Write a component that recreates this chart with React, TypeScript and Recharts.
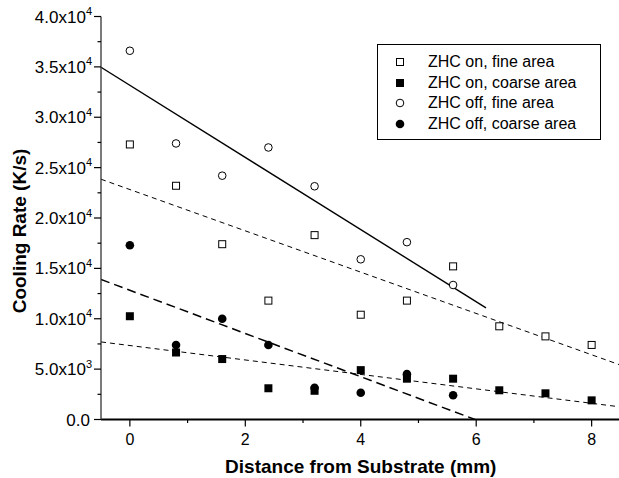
import React from 'react';
import { ComposedChart, XAxis, YAxis, Scatter, Line, Legend } from 'recharts';

// Distances (mm)
const distOn = [0, 0.8, 1.6, 2.4, 3.2, 4.0, 4.8, 5.6, 6.4, 7.2, 8.0];
const distOff = [0, 0.8, 1.6, 2.4, 3.2, 4.0, 4.8, 5.6];

// Cooling rates (K/s)
const onFine = [27300, 23200, 17400, 11800, 18300, 10400, 11800, 15200, 9250, 8250, 7400];
const onCoarse = [10250, 6650, 6000, 3100, 2850, 4900, 4050, 4050, 2900, 2600, 1900];
const offFine = [36600, 27400, 24200, 27000, 23150, 15900, 17600, 13350];
const offCoarse = [17300, 7400, 10000, 7400, 3150, 2650, 4500, 2400];

// Linear fit end points [x, y]
const fitOffFineX = [-0.5, 6.17];
const fitOffFineY = [34960, 11080];
const fitOnFineX = [-0.5, 8.5];
const fitOnFineY = [23850, 5400];
const fitOffCoarseX = [-0.5, 5.98];
const fitOffCoarseY = [13900, 0];
const fitOnCoarseX = [-0.5, 8.5];
const fitOnCoarseY = [7700, 1250];

// Ticks
const xTicks = [0, 1, 2, 3, 4, 5, 6, 7, 8];
const yTicks = [0, 2500, 5000, 7500, 10000, 12500, 15000, 17500, 20000, 22500, 25000, 27500, 30000, 32500, 35000, 37500, 40000];

const legendNames = ['ZHC on, fine area', 'ZHC on, coarse area', 'ZHC off, fine area', 'ZHC off, coarse area'];

const zip = (xs: number[], ys: number[]) => xs.map((x, i) => ({ x, y: ys[i] }));

const FONT = '"Liberation Sans", Arial, Helvetica, sans-serif';

const isMajorX = (v: number) => v % 2 === 0;
const isMajorY = (v: number) => v % 5000 === 0;

const BottomTick = (props: any) => {
  const { x, y, payload } = props;
  const v = payload.value;
  const major = isMajorX(v);
  return (
    <g>
      <line x1={x} x2={x} y1={y} y2={y + (major ? 7 : 3.5)} stroke="#000" strokeWidth={1.2} />
      {major && (
        <text x={x} y={y + 25} textAnchor="middle" fontFamily={FONT} fontSize={16} fill="#000">
          {v}
        </text>
      )}
    </g>
  );
};

const TopTick = (props: any) => {
  const { x, y, payload } = props;
  const major = isMajorX(payload.value);
  return <line x1={x} x2={x} y1={y} y2={y + (major ? 7 : 3.5)} stroke="#000" strokeWidth={1.2} />;
};

const fmtY = (v: number) => {
  if (v === 0) return { m: '0.0', e: '' };
  const e = Math.floor(Math.log10(v));
  const m = (v / Math.pow(10, e)).toFixed(1);
  return { m: m + 'x10', e: String(e) };
};

const LeftTick = (props: any) => {
  const { x, y, payload } = props;
  const v = payload.value;
  const major = isMajorY(v);
  const f = fmtY(v);
  return (
    <g>
      <line x1={x - (major ? 7 : 3.5)} x2={x} y1={y} y2={y} stroke="#000" strokeWidth={1.2} />
      {major && (
        <text x={f.e ? x - 9 : x - 11} y={y + 6} textAnchor="end" fontFamily={FONT} fontSize={17} fill="#000">
          {f.m}
          {f.e && (
            <tspan fontSize={11} dy={-7.5}>
              {f.e}
            </tspan>
          )}
        </text>
      )}
    </g>
  );
};

const RightTick = (props: any) => {
  const { x, y, payload } = props;
  const major = isMajorY(payload.value);
  return <line x1={x - (major ? 6 : 3)} x2={x} y1={y} y2={y} stroke="#000" strokeWidth={1.2} />;
};

const OpenSquare = (p: any) => (
  <rect x={p.cx - 3.5} y={p.cy - 3.5} width={7} height={7} fill="#fff" stroke="#000" strokeWidth={1} />
);
const FilledSquare = (p: any) => <rect x={p.cx - 4} y={p.cy - 4} width={8} height={8} fill="#000" />;
const OpenCircle = (p: any) => <circle cx={p.cx} cy={p.cy} r={3.8} fill="#fff" stroke="#000" strokeWidth={1} />;
const FilledCircle = (p: any) => <circle cx={p.cx} cy={p.cy} r={4.3} fill="#000" />;

const legendSymbols = [
  <rect x={3.5} y={3.5} width={7} height={7} fill="#fff" stroke="#000" strokeWidth={1} />,
  <rect x={3} y={3} width={8} height={8} fill="#000" />,
  <circle cx={7} cy={7} r={3.8} fill="#fff" stroke="#000" strokeWidth={1} />,
  <circle cx={7} cy={7} r={4.3} fill="#000" />,
];

const LegendBox = () => (
  <div
    style={{
      boxSizing: 'border-box',
      width: 224,
      height: 96,
      border: '1px solid #000',
      background: '#fff',
      padding: '7px 0 0 15px',
      fontFamily: FONT,
      fontSize: 16,
      color: '#000',
    }}
  >
    {legendNames.map((n, i) => (
      <div key={n} style={{ display: 'flex', alignItems: 'center', height: 20.5 }}>
        <svg width={14} height={14} style={{ marginRight: 21 }}>
          {legendSymbols[i]}
        </svg>
        <span>{n}</span>
      </div>
    ))}
  </div>
);

export default function App() {
  return (
    <div style={{ position: 'absolute', left: 0, top: 0, width: 619, height: 478, overflow: 'hidden', background: '#fff' }}>
      <ComposedChart width={625} height={478} margin={{ top: 16.5, right: 4.5, bottom: 0, left: 0 }}>
        <XAxis
          xAxisId={0}
          dataKey="x"
          type="number"
          domain={[-0.5, 8.5]}
          ticks={xTicks}
          allowDataOverflow
          height={58.5}
          tickSize={0}
          tickMargin={0}
          tickLine={false}
          tick={<BottomTick />}
          axisLine={{ stroke: '#000', strokeWidth: 2 }}
          interval={0}
          label={{ value: 'Distance from Substrate (mm)', position: 'insideBottom', offset: 5, style: { fontFamily: FONT, fontSize: 19, fontWeight: 'bold', fill: '#000' } }}
        />
        <XAxis
          xAxisId="top"
          orientation="top"
          type="number"
          domain={[-0.5, 8.5]}
          ticks={xTicks}
          allowDataOverflow
          height={0}
          tickSize={0}
          tickMargin={0}
          tickLine={false}
          tick={<TopTick />}
          axisLine={{ stroke: '#000', strokeWidth: 1.2 }}
          interval={0}
        />
        <YAxis
          yAxisId={0}
          type="number"
          domain={[0, 40000]}
          ticks={yTicks}
          allowDataOverflow
          width={101}
          tickSize={0}
          tickMargin={0}
          tickLine={false}
          tick={<LeftTick />}
          axisLine={{ stroke: '#333', strokeWidth: 1.3 }}
          interval={0}
          label={{ value: 'Cooling Rate (K/s)', angle: -90, position: 'insideLeft', offset: 0, dx: 19, dy: 13, style: { fontFamily: FONT, fontSize: 19, fontWeight: 'bold', fill: '#000', textAnchor: 'middle' } }}
        />
        <YAxis
          yAxisId="right"
          orientation="right"
          type="number"
          domain={[0, 40000]}
          ticks={yTicks}
          allowDataOverflow
          width={0}
          tickSize={0}
          tickMargin={0}
          tickLine={false}
          tick={<RightTick />}
          axisLine={{ stroke: '#000', strokeWidth: 1.2 }}
          interval={0}
        />
        <Legend
          layout="vertical"
          align="center"
          verticalAlign="middle"
          content={() => <LegendBox />}
          wrapperStyle={{ position: 'absolute', left: 377, top: 44, width: 224, height: 96 }}
        />
        <Line data={zip(fitOffFineX, fitOffFineY)} dataKey="y" stroke="#000" strokeWidth={1.4} dot={false} activeDot={false} isAnimationActive={false} legendType="none" />
        <Line data={zip(fitOnFineX, fitOnFineY)} dataKey="y" stroke="#000" strokeWidth={1} strokeDasharray="5 4" dot={false} activeDot={false} isAnimationActive={false} legendType="none" />
        <Line data={zip(fitOffCoarseX, fitOffCoarseY)} dataKey="y" stroke="#000" strokeWidth={1.5} strokeDasharray="9 5" dot={false} activeDot={false} isAnimationActive={false} legendType="none" />
        <Line data={zip(fitOnCoarseX, fitOnCoarseY)} dataKey="y" stroke="#000" strokeWidth={1} strokeDasharray="5 4" dot={false} activeDot={false} isAnimationActive={false} legendType="none" />
        <Scatter name={legendNames[0]} data={zip(distOn, onFine)} dataKey="y" shape={OpenSquare} isAnimationActive={false} />
        <Scatter name={legendNames[1]} data={zip(distOn, onCoarse)} dataKey="y" shape={FilledSquare} isAnimationActive={false} />
        <Scatter name={legendNames[2]} data={zip(distOff, offFine)} dataKey="y" shape={OpenCircle} isAnimationActive={false} />
        <Scatter name={legendNames[3]} data={zip(distOff, offCoarse)} dataKey="y" shape={FilledCircle} isAnimationActive={false} />
      </ComposedChart>
    </div>
  );
}
